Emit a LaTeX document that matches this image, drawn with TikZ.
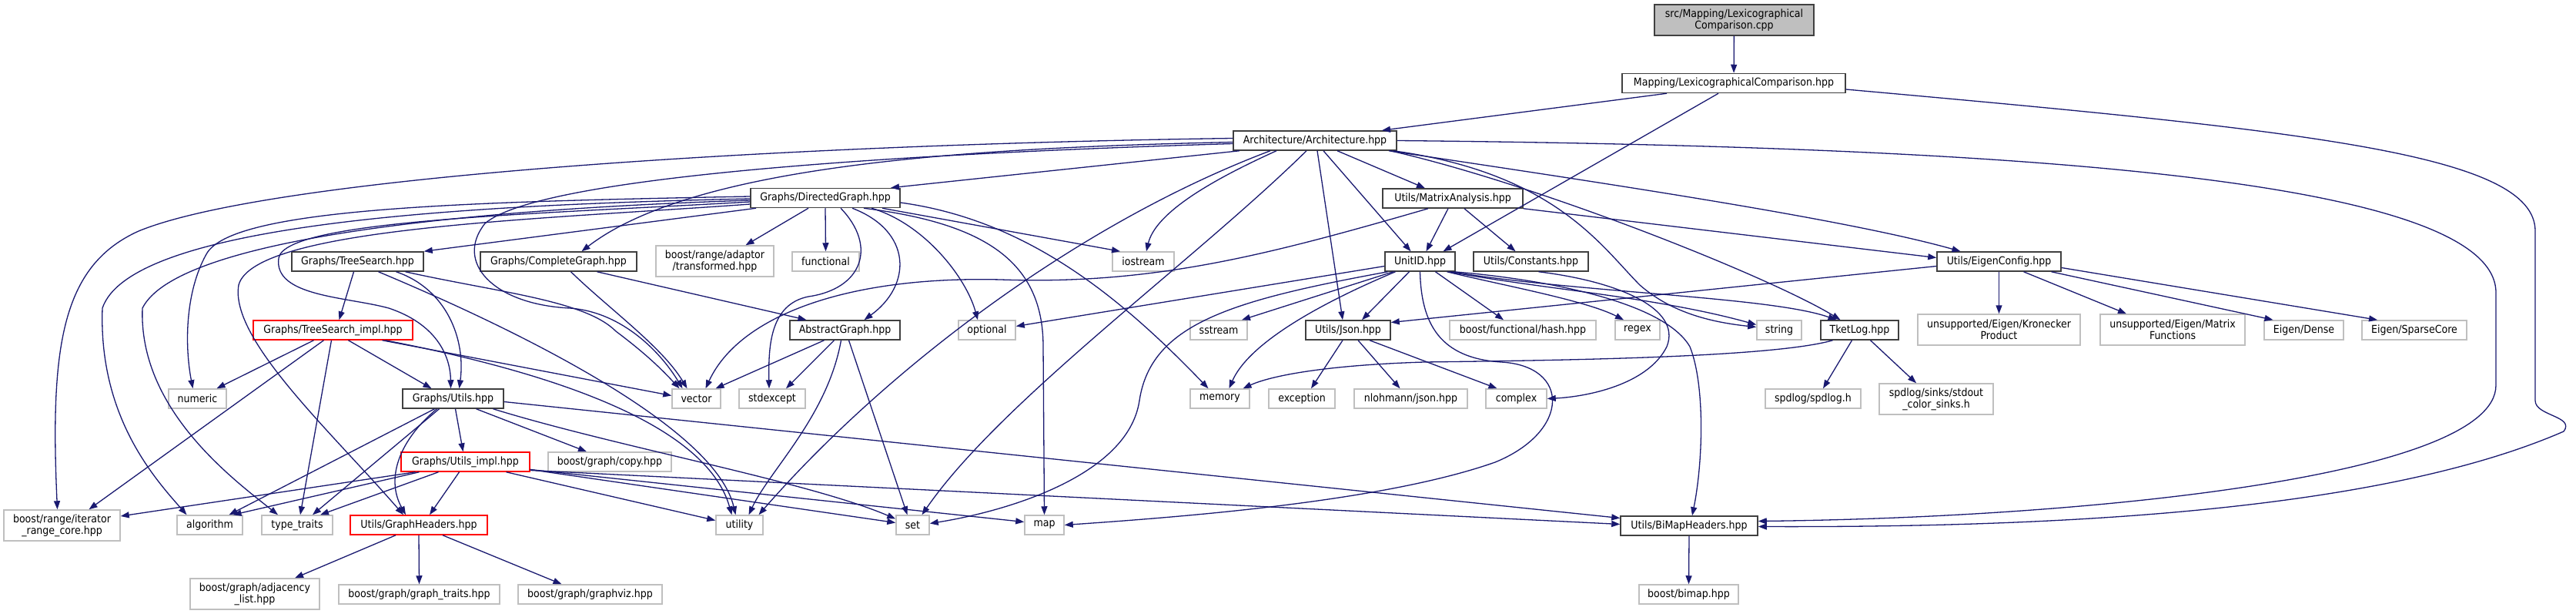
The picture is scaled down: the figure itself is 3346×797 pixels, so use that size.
\documentclass[tikz,border=0pt]{standalone}
\usepackage{fontspec}
\setmainfont{DejaVu Sans Condensed}
\usetikzlibrary{arrows.meta}
\definecolor{eblue}{HTML}{191970}
\definecolor{extgray}{HTML}{BFBFBF}
\definecolor{docgray}{HTML}{404040}
\newcommand\nfont{\fontsize{14}{15}\selectfont}
\tikzset{
  box/.style={inner sep=0pt, minimum height=25pt, line width=1.5pt, fill=white, font=\nfont, align=center, text=black},
  doc/.style={box, draw=docgray},
  ext/.style={box, draw=extgray},
  hid/.style={box, draw=red},
  e/.style={draw=eblue, line width=1.3pt, -{Triangle[length=11pt,width=8pt]}}
}
\begin{document}
\begin{tikzpicture}[x=1pt,y=-1pt]
\useasboundingbox (0,0) rectangle (3346,797);
\fill[white] (0,0) rectangle (3346,797);
% nodes
\node[doc,fill=extgray,minimum width=207pt,minimum height=40pt] (cpp) at (2252.5,26) {src/Mapping/Lexicographical\\Comparison.cpp};
\node[doc,minimum width=290pt] (maphpp) at (2252,108) {Mapping/LexicographicalComparison.hpp};
\node[doc,minimum width=212pt] (arch) at (1708,182.5) {Architecture/Architecture.hpp};
\node[doc,minimum width=194pt] (dg) at (1072,257) {Graphs/DirectedGraph.hpp};
\node[doc,minimum width=182pt] (ma) at (1887,257.5) {Utils/MatrixAnalysis.hpp};
\node[doc,minimum width=171pt] (ts) at (464.5,339.5) {Graphs/TreeSearch.hpp};
\node[doc,minimum width=203pt] (cg) at (725.5,339.5) {Graphs/CompleteGraph.hpp};
\node[ext,minimum width=153pt,minimum height=40pt] (trans) at (928.5,339) {boost/range/adaptor\\/transformed.hpp};
\node[ext,minimum width=87pt] (func) at (1072.5,339.5) {functional};
\node[ext,minimum width=80pt] (ios) at (1485,339.5) {iostream};
\node[doc,minimum width=91pt] (uid) at (1844.5,339.5) {UnitID.hpp};
\node[doc,minimum width=149pt] (const) at (1988.5,339.5) {Utils/Constants.hpp};
\node[doc,minimum width=161pt] (eigen) at (2596.5,339.5) {Utils/EigenConfig.hpp};
\node[hid,minimum width=207pt] (tsi) at (432.5,428.5) {Graphs/TreeSearch\_impl.hpp};
\node[doc,minimum width=143pt] (ag) at (1097.5,428.5) {AbstractGraph.hpp};
\node[ext,minimum width=74pt] (opt) at (1282,428.5) {optional};
\node[ext,minimum width=74pt] (sstr) at (1583,428.5) {sstream};
\node[doc,minimum width=110pt] (json) at (1751,428.5) {Utils/Json.hpp};
\node[ext,minimum width=190pt] (hash) at (1978,428.5) {boost/functional/hash.hpp};
\node[ext,minimum width=58pt] (regex) at (2127,428.5) {regex};
\node[ext,minimum width=58pt] (string) at (2311,428.5) {string};
\node[doc,minimum width=101pt] (tlog) at (2415.5,428.5) {TketLog.hpp};
\node[ext,minimum width=211pt,minimum height=40pt] (kron) at (2596.5,428) {unsupported/Eigen/Kronecker\\Product};
\node[ext,minimum width=188pt,minimum height=40pt] (mfun) at (2822,428) {unsupported/Eigen/Matrix\\Functions};
\node[ext,minimum width=103pt] (dense) at (2992.5,428.5) {Eigen/Dense};
\node[ext,minimum width=136pt] (sparse) at (3136,428.5) {Eigen/SparseCore};
\node[ext,minimum width=75pt] (numeric) at (256.5,517.5) {numeric};
\node[doc,minimum width=131pt] (gutils) at (588.5,517.5) {Graphs/Utils.hpp};
\node[ext,minimum width=63pt] (vector) at (904.5,517.5) {vector};
\node[ext,minimum width=86pt] (stdexc) at (1003,517.5) {stdexcept};
\node[ext,minimum width=77pt] (memory) at (1584.5,517.5) {memory};
\node[ext,minimum width=86pt] (except) at (1691,517.5) {exception};
\node[ext,minimum width=147pt] (nloh) at (1832.5,517.5) {nlohmann/json.hpp};
\node[ext,minimum width=79pt] (complex) at (1969.5,517.5) {complex};
\node[ext,minimum width=124pt] (spdlog) at (2355,517.5) {spdlog/spdlog.h};
\node[ext,minimum width=148pt,minimum height=40pt] (sinks) at (2515,518) {spdlog/sinks/stdout\\\_color\_sinks.h};
\node[hid,minimum width=167pt] (guimpl) at (604.5,599.5) {Graphs/Utils\_impl.hpp};
\node[ext,minimum width=160pt] (copy) at (792,599.5) {boost/graph/copy.hpp};
\node[ext,minimum width=151pt,minimum height=40pt] (itr) at (80.5,682) {boost/range/iterator\\\_range\_core.hpp};
\node[ext,minimum width=85pt] (algo) at (272.5,681.5) {algorithm};
\node[ext,minimum width=92pt] (tt) at (386,681.5) {type\_traits};
\node[hid,minimum width=178pt] (gh) at (544,681.5) {Utils/GraphHeaders.hpp};
\node[ext,minimum width=61pt] (util) at (960.5,681.5) {utility};
\node[ext,minimum width=43pt] (set) at (1185.5,681.5) {set};
\node[ext,minimum width=51pt] (map) at (1356.5,681.5) {map};
\node[doc,minimum width=178pt] (bimaph) at (2194,682.5) {Utils/BiMapHeaders.hpp};
\node[ext,minimum width=168pt,minimum height=40pt] (adj) at (331,771) {boost/graph/adjacency\\\_list.hpp};
\node[ext,minimum width=209pt] (gtraits) at (544.5,771.5) {boost/graph/graph\_traits.hpp};
\node[ext,minimum width=187pt] (gviz) at (766.5,771.5) {boost/graph/graphviz.hpp};
\node[ext,minimum width=129pt] (bimap) at (2193.5,771.5) {boost/bimap.hpp};
% edges
\draw[e] (cpp) -- (maphpp);
\draw[e] ([xshift=-87pt]maphpp.south) -- ([xshift=87pt]arch.north);
\draw[e] ([xshift=-20pt]maphpp.south) -- ([xshift=30pt]uid.north);
\draw[e] ([yshift=-8pt]maphpp.east) .. controls (3000,170) and (3293,200) .. (3293,300) -- (3293,520) .. controls (3293,540) and (3345,540) .. (3330,560) .. controls (3100,660) and (2700,685) .. ([yshift=-1pt]bimaph.east);
\draw[e] (arch.east) .. controls (2600,190) and (3242,230) .. (3242,380) -- (3242,500) .. controls (3242,620) and (2700,672) .. ([yshift=6pt]bimaph.east);
\draw[e] ([xshift=-98pt]arch.south) -- ([xshift=85pt]dg.north);
\draw[e] ([yshift=-2pt]arch.west) .. controls (1250,192) and (900,215) .. ([xshift=30pt]cg.north);
\draw[e] ([yshift=3pt]arch.west) .. controls (1000,188) and (350,230) .. (180,300) .. controls (80,345) and (65,450) .. ([xshift=-6pt]itr.north);
\draw[e] ([yshift=-4pt]arch.west) .. controls (1150,200) and (700,230) .. (630,290) .. controls (590,340) and (640,395) .. (740,400) .. controls (810,405) and (860,460) .. ([xshift=-18pt]vector.north);
\draw[e] ([xshift=-50pt]arch.south) .. controls (1560,240) and (1500,280) .. ([xshift=4pt]ios.north);
\draw[e] ([xshift=-58pt]arch.south) .. controls (1400,290) and (1150,480) .. ([xshift=25pt]util.north);
\draw[e] ([xshift=-11pt]arch.south) .. controls (1550,340) and (1300,520) .. ([xshift=12pt]set.north);
\draw[e] ([xshift=3pt]arch.south) -- ([xshift=-7pt]json.north);
\draw[e] ([xshift=11pt]arch.south) -- ([xshift=-12pt]uid.north);
\draw[e] ([xshift=29pt]arch.south) -- ([xshift=-36pt]ma.north);
\draw[e] ([xshift=96pt]arch.south) .. controls (2100,240) and (2400,285) .. ([xshift=-50pt]eigen.north);
\draw[e] ([xshift=98pt]arch.south) .. controls (2000,240) and (2300,360) .. ([xshift=-25pt]tlog.north);
\draw[e] ([xshift=102pt]arch.south) .. controls (2020,225) and (2080,320) .. (2130,370) .. controls (2170,405) and (2220,418) .. ([yshift=4pt]string.west);
\draw[e] ([xshift=-6pt]ma.south) -- ([xshift=8pt]uid.north);
\draw[e] ([xshift=15pt]ma.south) -- ([xshift=-20pt]const.north);
\draw[e] (ma.south east) -- ([yshift=5pt]eigen.west);
\draw[e] ([xshift=-32pt]ma.south) .. controls (1650,330) and (1500,370) .. (1300,363) .. controls (1100,358) and (960,410) .. ([xshift=12pt]vector.north);
\draw[e] ([xshift=-90pt]dg.south) -- (ts.north east);
\draw[e] ([xshift=-22pt]dg.south) -- ([xshift=40pt]trans.north);
\draw[e] (dg.south) -- (func.north);
\draw[e] ([xshift=74pt]dg.south) -- ([xshift=-30pt]ios.north);
\draw[e] ([yshift=-6pt]dg.east) .. controls (1330,285) and (1450,380) .. ([xshift=-15pt]memory.north);
\draw[e] ([xshift=60pt]dg.south) .. controls (1200,290) and (1255,360) .. ([xshift=-12pt]opt.north);
\draw[e] ([xshift=50pt]dg.south) .. controls (1280,290) and (1355,340) .. (1355,450) -- (map.north);
\draw[e] ([xshift=35pt]dg.south) .. controls (1185,300) and (1185,370) .. ([xshift=25pt]ag.north);
\draw[e] ([xshift=20pt]dg.south) .. controls (1140,320) and (1120,375) .. (1050,385) .. controls (1000,395) and (998,450) .. ([xshift=-4pt]stdexc.north);
\draw[e] ([yshift=-5pt]dg.west) .. controls (700,278) and (370,285) .. (362,335) .. controls (355,385) and (450,385) .. (505,400) .. controls (565,420) and (585,460) .. ([xshift=-3pt]gutils.north);
\draw[e] ([yshift=-8pt]dg.west) .. controls (700,285) and (330,295) .. (310,370) .. controls (298,440) and (430,560) .. ([xshift=-20pt]gh.north);
\draw[e] ([yshift=-3pt]dg.west) .. controls (600,272) and (230,310) .. (185,400) .. controls (180,530) and (300,620) .. ([xshift=-25pt]tt.north);
\draw[e] ([yshift=-1pt]dg.west) .. controls (600,266) and (170,290) .. (133,400) .. controls (128,540) and (200,620) .. ([xshift=-30pt]algo.north);
\draw[e] ([yshift=2pt]dg.west) .. controls (600,262) and (300,270) .. (268,330) .. controls (240,380) and (240,450) .. ([xshift=-6pt]numeric.north);
\draw[e] ([xshift=-5pt]ts.south) -- ([xshift=8pt]tsi.north);
\draw[e] ([xshift=50pt]ts.south) .. controls (580,375) and (605,440) .. ([xshift=8pt]gutils.north);
\draw[e] ([xshift=62pt]ts.south) .. controls (650,380) and (760,390) .. (800,430) .. controls (840,460) and (860,480) .. ([xshift=-22pt]vector.north);
\draw[e] ([xshift=27pt]ts.south) .. controls (700,440) and (930,560) .. ([xshift=-5pt]util.north);
\draw[e] ([xshift=-25pt]tsi.south) -- ([xshift=25pt]numeric.north);
\draw[e] ([xshift=-12pt]tsi.south) -- ([xshift=35pt]itr.north);
\draw[e] ([xshift=-2pt]tsi.south) -- ([xshift=4pt]tt.north);
\draw[e] ([xshift=20pt]tsi.south) -- ([xshift=-28pt]gutils.north);
\draw[e] ([xshift=64pt]tsi.south) -- ([yshift=4pt]vector.west);
\draw[e] ([xshift=68pt]tsi.south) .. controls (750,490) and (920,560) .. ([xshift=-10pt]util.north);
\draw[e] ([xshift=3pt]gutils.south) -- ([xshift=-3pt]guimpl.north);
\draw[e] ([xshift=30pt]gutils.south) -- ([xshift=-30pt]copy.north);
\draw[e] ([xshift=-24pt]gutils.south) -- ([xshift=25pt]algo.north);
\draw[e] ([xshift=-18pt]gutils.south) -- ([xshift=20pt]tt.north);
\draw[e] ([xshift=-21pt]gutils.south) .. controls (520,570) and (500,620) .. ([xshift=-17pt]gh.north);
\draw[e] ([xshift=52pt]gutils.south) .. controls (800,580) and (1050,625) .. ([yshift=8pt]set.west);
\draw[e] ([yshift=-4pt]gutils.east) -- ([yshift=10pt]bimaph.west);
\draw[e] ([xshift=-65pt]guimpl.south) -- ([yshift=12pt]itr.east);
\draw[e] ([xshift=-60pt]guimpl.south) -- ([xshift=30pt]algo.north);
\draw[e] ([xshift=-35pt]guimpl.south) -- ([xshift=30pt]tt.north);
\draw[e] ([xshift=-8pt]guimpl.south) -- ([xshift=14pt]gh.north);
\draw[e] ([xshift=53pt]guimpl.south) -- ([yshift=6pt]util.west);
\draw[e] ([yshift=-10pt]guimpl.east) -- ([yshift=3pt]set.west);
\draw[e] ([yshift=-10pt]guimpl.east) -- ([yshift=4pt]map.west);
\draw[e] ([yshift=-11pt]guimpl.east) -- ([yshift=2pt]bimaph.west);
\draw[e] ([xshift=-30pt]gh.south) -- ([xshift=52pt]adj.north);
\draw[e] (gh.south) -- (gtraits.north);
\draw[e] ([xshift=31pt]gh.south) -- ([xshift=-37pt]gviz.north);
\draw[e] (bimaph.south) -- (bimap.north);
\draw[e] ([xshift=-27pt]ag.south) -- ([xshift=25pt]vector.north);
\draw[e] ([xshift=-14pt]ag.south) -- ([xshift=18pt]stdexc.north);
\draw[e] ([xshift=-5pt]ag.south) .. controls (1075,540) and (1000,610) .. ([xshift=12pt]util.north);
\draw[e] ([xshift=5pt]ag.south) -- ([xshift=-7pt]set.north);
\draw[e] ([xshift=50pt]cg.south) -- ([xshift=-50pt]ag.north);
\draw[e] ([xshift=16pt]cg.south) .. controls (790,400) and (860,450) .. ([xshift=-12pt]vector.north);
\draw[e] ([yshift=-6pt]uid.west) -- ([yshift=5pt]opt.east);
\draw[e] ([xshift=-35pt]uid.south) -- ([xshift=30pt]sstr.north);
\draw[e] ([xshift=-32pt]uid.south) .. controls (1700,400) and (1620,450) .. ([xshift=12pt]memory.north);
\draw[e] ([xshift=-14pt]uid.south) -- ([xshift=18pt]json.north);
\draw[e] ([xshift=-42pt]uid.south) .. controls (1600,390) and (1495,420) .. (1480,520) .. controls (1465,620) and (1300,665) .. ([yshift=2pt]set.east);
\draw[e] (uid.south) .. controls (1846,420) and (1870,465) .. (1950,470) .. controls (2040,475) and (2040,560) .. (1942,600) .. controls (1800,650) and (1550,670) .. (map.east);
\draw[e] ([xshift=20pt]uid.south) -- ([xshift=-25pt]hash.north);
\draw[e] ([xshift=35pt]uid.south) .. controls (1950,370) and (2060,390) .. ([xshift=-18pt]regex.north);
\draw[e] ([xshift=38pt]uid.south) .. controls (2000,375) and (2150,385) .. ([yshift=7pt]string.west);
\draw[e] ([xshift=40pt]uid.south) .. controls (2050,380) and (2300,385) .. ([xshift=-30pt]tlog.north);
\draw[e] ([xshift=44pt]uid.south) .. controls (2000,362) and (2160,390) .. (2195,450) .. controls (2215,500) and (2212,600) .. ([xshift=4pt]bimaph.north);
\draw[e] ([xshift=10pt]const.south) .. controls (2100,365) and (2185,400) .. (2165,450) .. controls (2140,500) and (2060,515) .. (complex.east);
\draw[e] ([xshift=-7pt]json.south) -- ([xshift=12pt]except.north);
\draw[e] ([xshift=13pt]json.south) -- ([xshift=-14pt]nloh.north);
\draw[e] ([xshift=28pt]json.south) -- ([xshift=-25pt]complex.north);
\draw[e] ([xshift=-10pt]tlog.south) -- ([xshift=13pt]spdlog.north);
\draw[e] ([xshift=14pt]tlog.south) -- ([xshift=-26pt]sinks.north);
\draw[e] ([xshift=-35pt]tlog.south) .. controls (2300,465) and (2000,468) .. (1850,470) .. controls (1720,474) and (1650,488) .. ([xshift=30pt]memory.north);
\draw[e] ([yshift=-6pt]eigen.west) -- ([yshift=10pt]json.east);
\draw[e] (eigen.south) -- (kron.north);
\draw[e] ([xshift=32pt]eigen.south) -- ([xshift=-60pt]mfun.north);
\draw[e] ([xshift=68pt]eigen.south) -- ([xshift=-40pt]dense.north);
\draw[e] ([yshift=-8pt]eigen.east) -- ([xshift=-48pt]sparse.north);
\end{tikzpicture}
\end{document}
